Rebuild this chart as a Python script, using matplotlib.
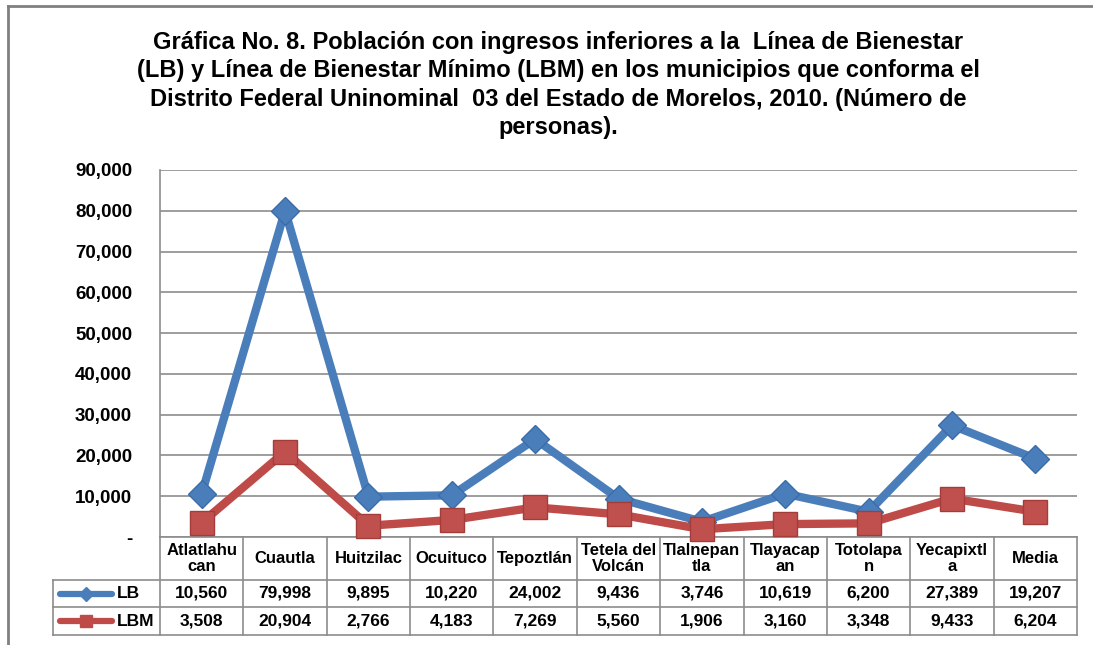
import matplotlib
matplotlib.use("Agg")
import matplotlib.pyplot as plt
from matplotlib.lines import Line2D
from matplotlib.ticker import FuncFormatter

plt.rcParams['font.family'] = ['Liberation Sans', 'DejaVu Sans']
plt.rcParams['font.weight'] = 'bold'

# ---- data ----
categories = ["Atlatlahu\ncan", "Cuautla", "Huitzilac", "Ocuituco", "Tepoztlán",
              "Tetela del\nVolcán", "Tlalnepan\ntla", "Tlayacap\nan", "Totolapa\nn",
              "Yecapixtl\na", "Media"]
lb = [10560, 79998, 9895, 10220, 24002, 9436, 3746, 10619, 6200, 27389, 19207]
lbm = [3508, 20904, 2766, 4183, 7269, 5560, 1906, 3160, 3348, 9433, 6204]
series_names = ["LB", "LBM"]
y_ticks = [0, 10000, 20000, 30000, 40000, 50000, 60000, 70000, 80000, 90000]
title = ("Gráfica No. 8. Población con ingresos inferiores a la  Línea de Bienestar\n"
         "(LB) y Línea de Bienestar Mínimo (LBM) en los municipios que conforma el\n"
         "Distrito Federal Uninominal  03 del Estado de Morelos, 2010. (Número de\n"
         "personas).")

BLUE = "#4A7EBB"
RED = "#BE4B48"
GRID = "#8C8C8C"

W, H = 1093, 645
fig = plt.figure(figsize=(W / 100, H / 100), dpi=100)

# pixel layout
PL, PR, PT, PB = 160, 1077, 170, 537
TL, TB = 53, 635
HDR, ROW1 = 43, 70

def fx(px):
    return px / W

def fy(py):
    return 1 - py / H

ax = fig.add_axes([fx(PL), fy(PB), fx(PR - PL), (PB - PT) / H])
n = len(categories)
x = list(range(n))
ax.set_xlim(-0.5, n - 0.5)
ax.set_ylim(0, 90000)
ax.set_yticks(y_ticks)
ax.yaxis.set_major_formatter(FuncFormatter(lambda v, p: "-" if v == 0 else f"{int(v):,}"))
ax.set_xticks([])
ax.grid(axis='y', color=GRID, lw=1.2)
ax.set_axisbelow(True)
for s in ['top', 'right']:
    ax.spines[s].set_visible(False)
for s in ['left', 'bottom']:
    ax.spines[s].set_color(GRID)
    ax.spines[s].set_linewidth(1.2)
ax.tick_params(axis='y', length=0, pad=20, labelsize=13.5)
for t in ax.get_yticklabels():
    t.set_fontweight('bold')

ax.plot(x, lb, color=BLUE, lw=6, marker='D', ms=14, mfc=BLUE, mec="#3A6CA8",
        mew=1, clip_on=False, zorder=5)
ax.plot(x, lbm, color=RED, lw=6, marker='s', ms=17, mfc="#C0504D", mec="#A33D3A",
        mew=1, clip_on=False, zorder=6)

# ---- table ----
unit = (PR - PL) / n
tax = fig.add_axes([fx(TL), fy(TB), fx(PR - TL), (TB - PB) / H])
tax.set_xlim(-0.5 - (PL - TL) / unit, n - 0.5)
tax.set_ylim(TB - PB, 0)
tax.axis('off')

def ux(px):
    return -0.5 + (px - PL) / unit

lc = dict(color=GRID, lw=1.2, clip_on=False)
tbh = TB - PB
for i in range(n + 1):
    tax.plot([i - 0.5, i - 0.5], [0, tbh], **lc)
tax.plot([ux(TL), ux(TL)], [HDR, tbh], **lc)
for yy in [HDR, ROW1, tbh]:
    tax.plot([ux(TL), n - 0.5], [yy, yy], **lc)

for i, c in enumerate(categories):
    tax.text(i, HDR / 2, c, ha='center', va='center', fontsize=12,
             fontweight='bold', linespacing=1.15)
    tax.text(i, (HDR + ROW1) / 2, f"{lb[i]:,}", ha='center', va='center',
             fontsize=12.5, fontweight='bold')
    tax.text(i, (ROW1 + tbh) / 2, f"{lbm[i]:,}", ha='center', va='center',
             fontsize=12.5, fontweight='bold')

# legend keys
for (yy, name, col, mk, ms) in [((HDR + ROW1) / 2, series_names[0], BLUE, 'D', 7),
                                 ((ROW1 + tbh) / 2, series_names[1], RED, 's', 9)]:
    tax.plot([ux(60), ux(112)], [yy, yy], color=col, lw=4.5,
             solid_capstyle='round', clip_on=False)
    tax.plot([ux(86)], [yy], marker=mk, ms=ms, color=col, clip_on=False)
    tax.text(ux(117), yy, name, ha='left', va='center', fontsize=12.5, fontweight='bold')

# title
fig.text(fx(558), fy(31), title, ha='center', va='top', fontsize=17,
         fontweight='bold', linespacing=1.3)

# frame
fig.add_artist(Line2D([fx(8), fx(8)], [fy(6), 0], transform=fig.transFigure,
                      color="#808080", lw=2))
fig.add_artist(Line2D([fx(8), 1], [fy(6), fy(6)], transform=fig.transFigure,
                      color="#808080", lw=2))

fig.savefig("out.png", dpi=100)
